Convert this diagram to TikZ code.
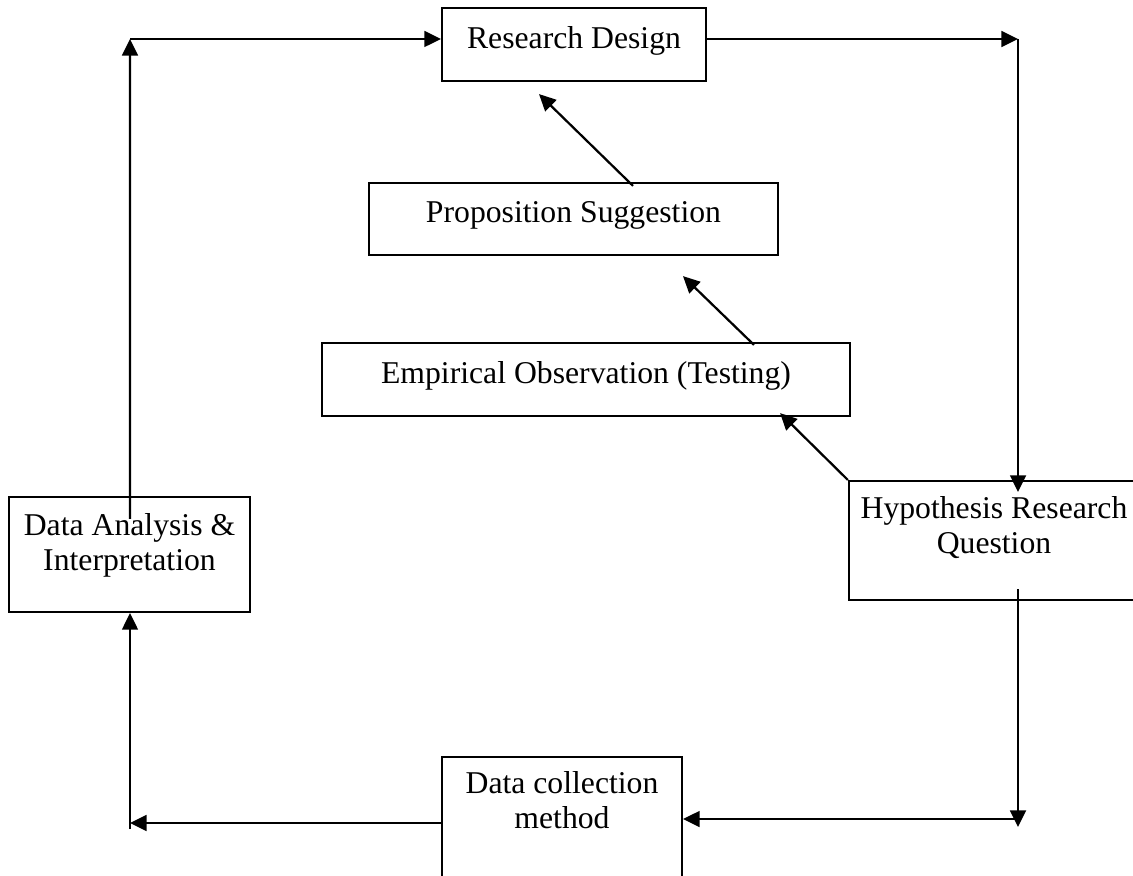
\documentclass[tikz,border=0pt]{standalone}
\usepackage{fontspec}
\setmainfont{Liberation Serif}
\usetikzlibrary{arrows.meta,calc}

\begin{document}
\begin{tikzpicture}[x=0.3785pt, y=-0.3785pt]
\tikzstyle{block} = [rectangle, draw=black, line width=0.85pt, align=center, font=\fontsize{12}{13.2}\selectfont]
\tikzstyle{arr} = [line width=0.85pt, -{Triangle[length=6.3pt,width=6pt]}]
\useasboundingbox (0,0) rectangle (1133,876);
\node (B0) at (574,44.5) [block, minimum width=99.9pt, minimum height=27.6pt, text depth=5pt] {Research Design};
\node (B1) at (573.5,219) [block, minimum width=154.8pt, minimum height=27.25pt, text depth=5.4pt] {Proposition Suggestion};
\node (B2) at (586,379.5) [block, minimum width=199.8pt, minimum height=27.6pt, text depth=5pt] {Empirical Observation (Testing)};
\node (B3) at (994,540.5) [block, minimum width=109.8pt, minimum height=45pt, text depth=12pt] {Hypothesis Research\\Question};
\node (B4) at (562,818) [block, minimum width=90.8pt, minimum height=46.2pt, text depth=13.4pt] {Data collection\\method};
\node (B5) at (129.5,554.5) [block, minimum width=91.2pt, minimum height=43.5pt, text depth=9.2pt] {Data Analysis \&\\Interpretation};
\coordinate (C0) at (130,39);
\coordinate (C1) at (1018,39);
\coordinate (C2) at (1018,819);
\coordinate (C3) at (130,823);
\draw[arr] ($(B5.north)+(0.5,23)$) -- (C0);
\draw[arr] (C0) -- (C0 -| B0.west);
\draw[arr] (B0.east |- C1) -- (C1);
\draw[arr] (C1) -- ($(C1 |- B3.north)+(0,12)$);
\draw[arr] ($(C1 |- B3.south)+(0,-12)$) -- ($(C2)+(0,8)$);
\draw[arr] (C2) -- (C2 -| B4.east);
\draw[arr] (B4.west |- C3) -- (C3);
\draw[arr] ($(C3)+(0,6)$) -- (C3 |- B5.south);
\draw[arr] (B3.north west) -- ($(B2.south east)+(-71,-4)$);
\draw[arr] ($(B2.north)+(168,3)$) -- ($(B1.south)+(109.5,20)$);
\draw[arr] ($(B1.north)+(59.5,4)$) -- ($(B0.south)+(-35,12)$);
\end{tikzpicture}
\end{document}
